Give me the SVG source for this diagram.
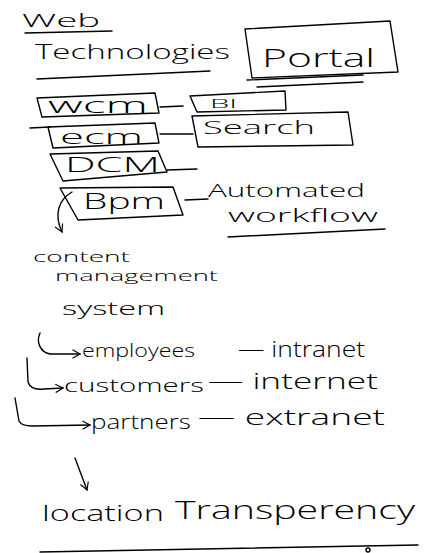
<svg xmlns="http://www.w3.org/2000/svg" width="434" height="553" viewBox="0 0 434 553">
<defs>
<style>
.s{fill:none;stroke:#000;stroke-width:1.4;stroke-linecap:round;stroke-linejoin:round}
.t{font-family:"Open Sans","DejaVu Sans",sans-serif;font-weight:300;fill:#000}
</style>
<marker id="ah" viewBox="0 0 12 12" refX="10" refY="6" markerWidth="10" markerHeight="10" orient="auto" markerUnits="userSpaceOnUse">
<path d="M1,1 L10,6 L1,11" fill="none" stroke="#000" stroke-width="1.4"/>
</marker>
</defs>
<rect width="434" height="553" fill="#fff"/>
<g id="title">
<text class="t" x="22" y="27" font-size="19" textLength="78" lengthAdjust="spacingAndGlyphs">Web</text>
<path class="s" d="M25,33 L112,31"/>
<text class="t" x="35" y="59" font-size="21" textLength="195" lengthAdjust="spacingAndGlyphs">Technologies</text>
<path class="s" d="M37,79 L210,71"/>
</g>
<g id="portal">
<polygon class="s" points="245,29 390,21 398,72 252,78"/>
<text class="t" x="262" y="67" font-size="26" textLength="113" lengthAdjust="spacingAndGlyphs">Portal</text>
<path class="s" d="M247,80 L363,75 M257,87 L363,82"/>
</g>
<g id="wcm">
<polygon class="s" points="37,98 155,93 159,113 42,117"/>
<text class="t" x="48" y="113" font-size="22" textLength="100" lengthAdjust="spacingAndGlyphs">wcm</text>
</g>
<g id="bi">
<polygon class="s" points="190,96 285,91 286,110 197,112"/>
<text class="t" x="210" y="108" font-size="13" textLength="27" lengthAdjust="spacingAndGlyphs">BI</text>
</g>
<g id="ecm">
<polygon class="s" points="48,127 155,123 159,143 53,148"/>
<text class="t" x="60" y="144" font-size="20" textLength="83" lengthAdjust="spacingAndGlyphs">ecm</text>
</g>
<g id="search">
<polygon class="s" points="192,116 348,112 353,145 198,147"/>
<text class="t" x="203" y="134" font-size="18" textLength="112" lengthAdjust="spacingAndGlyphs">Search</text>
</g>
<g id="dcm">
<polygon class="s" points="50,154 158,151 167,172 63,181"/>
<text class="t" x="65" y="172" font-size="20" textLength="95" lengthAdjust="spacingAndGlyphs">DCM</text>
</g>
<g id="bpm">
<polygon class="s" points="60,188 173,187 183,215 78,220"/>
<text class="t" x="83" y="209" font-size="22" textLength="82" lengthAdjust="spacingAndGlyphs">Bpm</text>
</g>
<g id="workflow">
<text class="t" x="208" y="197" font-size="19" textLength="157" lengthAdjust="spacingAndGlyphs">Automated</text>
<text class="t" x="228" y="222" font-size="19" textLength="150" lengthAdjust="spacingAndGlyphs">workflow</text>
<path class="s" d="M228,237 L385,229"/>
</g>
<g id="cms">
<text class="t" x="33" y="262" font-size="14" textLength="97" lengthAdjust="spacingAndGlyphs">content</text>
<text class="t" x="55" y="281" font-size="15" textLength="163" lengthAdjust="spacingAndGlyphs">management</text>
<text class="t" x="62" y="315" font-size="18" textLength="103" lengthAdjust="spacingAndGlyphs">system</text>
</g>
<g id="employees">
<text class="t" x="82" y="357" font-size="18" textLength="113" lengthAdjust="spacingAndGlyphs">employees</text>
<text class="t" x="238" y="357" font-size="22" textLength="127" lengthAdjust="spacingAndGlyphs">— intranet</text>
</g>
<g id="customers">
<text class="t" x="64" y="392" font-size="18" textLength="140" lengthAdjust="spacingAndGlyphs">customers</text>
<text class="t" x="208" y="389" font-size="22" textLength="170" lengthAdjust="spacingAndGlyphs">— internet</text>
</g>
<g id="partners">
<text class="t" x="91" y="429" font-size="20" textLength="100" lengthAdjust="spacingAndGlyphs">partners</text>
<text class="t" x="198" y="425" font-size="22" textLength="187" lengthAdjust="spacingAndGlyphs">— extranet</text>
</g>
<g id="location">
<text class="t" x="42" y="521" font-size="22" textLength="122" lengthAdjust="spacingAndGlyphs">location</text>
<text class="t" x="175" y="519" font-size="26" textLength="240" lengthAdjust="spacingAndGlyphs">Transperency</text>
<path class="s" d="M40,552 L418,545"/>
<circle class="s" cx="368" cy="550" r="2"/>
</g>
<g id="connectors">
<path class="s" d="M160,107 L183,106"/>
<path class="s" d="M30,128 L50,127"/>
<path class="s" d="M160,134 L193,134"/>
<path class="s" d="M167,170 L197,169"/>
<path class="s" d="M185,200 L208,199"/>
<path class="s" d="M72,192 C58,200 54,215 62,232" marker-end="url(#ah)"/>
<path class="s" d="M40,333 C36,342 40,352 50,354 L80,354" marker-end="url(#ah)"/>
<path class="s" d="M27,358 L28,382 C30,388 36,390 44,389 L63,388" marker-end="url(#ah)"/>
<path class="s" d="M15,398 L19,421 C21,425 25,426 32,426 L90,425" marker-end="url(#ah)"/>
<path class="s" d="M75,458 L87,490" marker-end="url(#ah)"/>
</g>
</svg>
